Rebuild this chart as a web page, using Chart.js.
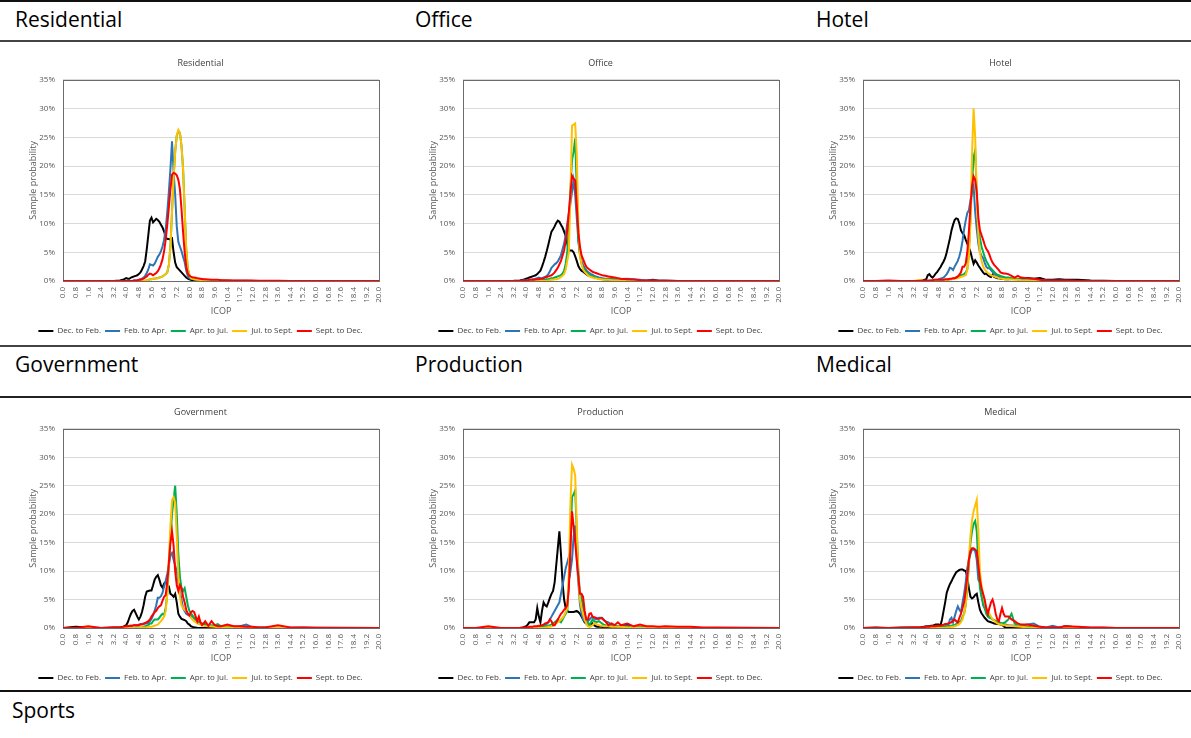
<!DOCTYPE html>
<html><head><meta charset="utf-8">
<script src="https://cdn.jsdelivr.net/npm/chart.js@4.4.1/dist/chart.umd.min.js"></script>
<style>
html,body{margin:0;padding:0;background:#fff;}
body{width:1191px;height:738px;position:relative;overflow:hidden;font-family:"Open Sans",sans-serif;}
.rule{position:absolute;left:0;width:1191px;background:#222;z-index:2;}
.hdr{position:absolute;font-size:21px;color:#000;line-height:21px;white-space:nowrap;}
canvas{position:absolute;}
</style></head><body>
<div class="rule" style="top:0;height:2px;background:#111"></div>
<div class="rule" style="top:40px;height:2px;background:#444"></div>
<div class="rule" style="top:345px;height:2px;background:#444"></div>
<div class="rule" style="top:396px;height:2px;background:#222"></div>
<div class="rule" style="top:690px;height:2px;background:#111"></div>
<div class="hdr" style="left:15px;top:9px">Residential</div>
<div class="hdr" style="left:415px;top:9px">Office</div>
<div class="hdr" style="left:816px;top:9px">Hotel</div>
<div class="hdr" style="left:15px;top:354px">Government</div>
<div class="hdr" style="left:415px;top:354px">Production</div>
<div class="hdr" style="left:816px;top:354px">Medical</div>
<div class="hdr" style="left:12px;top:700px">Sports</div>
<canvas id="c0" width="400" height="303" style="left:0;top:42px"></canvas>
<canvas id="c1" width="400" height="303" style="left:400px;top:42px"></canvas>
<canvas id="c2" width="400" height="303" style="left:800px;top:42px"></canvas>
<canvas id="c3" width="400" height="294" style="left:0;top:398px"></canvas>
<canvas id="c4" width="400" height="294" style="left:400px;top:398px"></canvas>
<canvas id="c5" width="400" height="294" style="left:800px;top:398px"></canvas>
<script>
// ICOP sample points (x values)
const ICOP = [0.0,0.8,1.6,2.4,3.2,3.6,3.8,
 4.0,4.1,4.2,4.3,4.4,4.5,4.6,4.7,4.8,4.9,
 5.0,5.1,5.2,5.3,5.4,5.5,5.6,5.7,5.8,5.9,
 6.0,6.1,6.2,6.3,6.4,6.5,6.6,6.7,6.8,6.9,
 7.0,7.1,7.2,7.3,7.4,7.5,7.6,7.7,7.8,7.9,
 8.0,8.1,8.2,8.3,8.4,8.5,8.6,8.7,8.8,8.9,9.0,
 9.2,9.4,9.6,9.8,10.0,10.4,10.8,11.2,11.6,12.0,12.4,12.8,13.6,14.4,15.2,16.0,20.0];

const SERIES_NAMES = ['Dec. to Feb.','Feb. to Apr.','Apr. to Jul.','Jul. to Sept.','Sept. to Dec.'];
const SERIES_COLORS = ['#000000','#2E75B6','#00B050','#FFC000','#FF0000'];
const X_TICKS = [0.0,0.8,1.6,2.4,3.2,4.0,4.8,5.6,6.4,7.2,8.0,8.8,9.6,10.4,11.2,12.0,12.8,13.6,14.4,15.2,16.0,16.8,17.6,18.4,19.2,20.0];
const Y_TICKS = [0,5,10,15,20,25,30,35];

// ---------- Residential ----------
const res_dec = [0,0,0,0,0,0.1,0.2,
 0.5,0.4,0.4,0.6,0.7,0.8,0.9,1.0,1.2,1.5,
 2.0,2.6,3.4,5.5,8.0,10.5,11.0,10.2,10.5,10.8,
 10.6,10.3,9.8,9.3,8.6,7.6,7.3,7.3,7.2,7.4,
 5.0,3.2,2.4,2.1,1.8,1.5,1.2,0.9,0.6,0.4,
 0.3,0.2,0.1,0.1,0.1,0.05,0,0,0,0,0,
 0,0,0,0,0,0,0,0,0,0,0,0,0,0,0,0,0];
const res_feb = [0,0,0,0,0,0,0,
 0,0,0,0,0,0.1,0.1,0.1,0.2,0.3,
 0.4,0.6,0.9,1.4,2.0,2.9,2.8,2.7,3.0,3.6,
 4.2,4.6,5.2,6.0,7.2,9.0,12.0,15.5,19.5,24.3,
 19.0,15.0,9.5,6.8,6.0,5.2,4.2,3.3,1.8,0.9,
 0.5,0.4,0.35,0.3,0.3,0.25,0.2,0.2,0.2,0.2,0.15,
 0.15,0.1,0.1,0.1,0.1,0.05,0.05,0.05,0.05,0,0,0,0,0,0,0,0];
const res_apr = [0,0,0,0,0,0,0,
 0,0,0,0,0,0,0,0,0,0,
 0,0,0,0.1,0.2,0.3,0.3,0.4,0.4,0.5,
 0.5,0.6,0.7,0.8,1.0,1.2,1.5,2.8,6.0,12.0,
 18.0,22.5,25.3,26.0,25.8,23.5,19.5,12.5,5.5,2.2,
 1.0,0.5,0.4,0.3,0.25,0.2,0.2,0.15,0.1,0.1,0.1,
 0.1,0.05,0.05,0.05,0.05,0,0,0,0,0,0,0,0,0,0,0,0];
const res_jul = [0,0,0,0,0,0,0,
 0,0,0,0,0,0,0,0,0,0,
 0,0,0.1,0.1,0.2,0.3,0.3,0.4,0.4,0.5,
 0.5,0.6,0.7,0.8,1.0,1.2,1.5,2.8,6.0,12.0,
 18.0,22.5,25.3,26.3,25.8,23.5,19.5,12.5,5.5,2.2,
 1.0,0.5,0.4,0.3,0.25,0.2,0.2,0.15,0.1,0.1,0.1,
 0.1,0.05,0.05,0.05,0.05,0,0,0,0,0,0,0,0,0,0,0,0];
const res_sep = [0,0,0,0,0,0,0,
 0,0,0,0,0,0.1,0.1,0.1,0.2,0.2,
 0.3,0.4,0.6,0.8,1.1,1.3,1.2,1.0,1.2,1.4,
 1.7,2.2,2.9,3.8,5.2,7.2,9.8,12.8,16.0,18.5,
 18.8,18.7,18.4,17.6,16.0,12.5,8.5,5.0,2.5,1.3,
 0.9,0.75,0.65,0.6,0.55,0.5,0.45,0.4,0.35,0.3,0.3,
 0.25,0.2,0.2,0.2,0.15,0.15,0.1,0.1,0.1,0.1,0.05,0.05,0.05,0,0,0,0];

// ---------- Office ----------
const off_dec = [0,0,0,0,0.05,0.1,0.2,
 0.4,0.5,0.6,0.7,0.8,0.9,1.0,1.2,1.5,1.8,
 2.5,3.3,4.2,5.2,6.3,7.5,8.6,9.0,9.5,10.1,
 10.5,10.3,9.8,9.3,8.6,7.8,6.5,5.3,5.3,5.3,
 5.0,4.3,3.5,2.6,2.1,1.8,1.6,1.4,1.2,1.0,
 0.9,0.85,0.8,0.7,0.6,0.5,0.45,0.4,0.35,0.3,0.25,
 0.2,0.15,0.15,0.1,0.1,0.1,0.05,0.05,0.05,0.2,0.05,0.05,0,0,0,0,0];
const off_feb = [0,0,0,0,0,0,0.1,
 0.1,0.1,0.2,0.2,0.3,0.3,0.4,0.5,0.6,0.5,
 0.5,0.6,0.7,0.9,1.2,1.7,2.3,2.6,2.9,3.1,
 3.4,3.9,4.5,5.5,6.5,8.0,10.0,11.8,13.5,15.5,
 17.5,15.0,11.0,7.0,5.0,3.6,2.8,2.3,1.9,1.6,
 1.4,1.2,1.1,0.9,0.8,0.7,0.6,0.55,0.5,0.45,0.4,
 0.4,0.35,0.3,0.3,0.35,0.4,0.3,0.2,0.1,0.1,0.05,0.05,0,0,0,0,0];
const off_apr = [0,0,0,0,0,0,0,
 0,0,0,0,0,0,0,0.1,0.1,0.1,
 0.1,0.2,0.2,0.3,0.3,0.4,0.5,0.5,0.6,0.7,
 0.8,0.9,1.0,1.3,1.8,3.0,5.0,10.0,16.0,21.0,
 22.5,24.8,16.0,7.0,4.5,3.0,2.3,1.9,1.6,1.3,
 1.0,0.9,0.8,0.7,0.6,0.5,0.45,0.4,0.35,0.3,0.3,
 0.25,0.2,0.2,0.15,0.1,0.05,0.05,0,0,0,0,0,0,0,0,0,0];
const off_jul = [0,0,0,0,0,0,0,
 0,0,0,0,0,0,0,0,0,0,
 0,0,0,0,0.1,0.1,0.2,0.2,0.3,0.3,
 0.4,0.5,0.7,0.9,1.2,2.0,3.5,5.0,15.0,27.0,
 27.2,27.4,22.0,10.0,4.5,3.0,2.0,1.6,1.3,1.0,
 0.8,0.7,0.6,0.5,0.5,0.4,0.35,0.3,0.25,0.2,0.2,
 0.2,0.15,0.1,0.1,0.05,0.05,0,0,0,0,0,0,0,0,0,0,0];
const off_sep = [0,0,0,0,0,0,0.1,
 0.1,0.1,0.2,0.2,0.2,0.2,0.3,0.3,0.3,0.4,
 0.4,0.5,0.6,0.7,0.8,0.9,1.0,1.2,1.5,1.9,
 2.3,2.9,3.5,4.4,5.3,7.0,8.8,12.0,15.2,18.3,
 17.8,17.5,13.2,8.5,6.0,4.5,3.8,3.1,2.5,2.2,
 2.0,1.8,1.6,1.5,1.4,1.3,1.2,1.1,1.0,0.95,0.9,
 0.8,0.7,0.6,0.5,0.4,0.3,0.25,0.15,0.1,0.1,0.05,0.05,0,0,0,0,0];

// ---------- Hotel ----------
const hot_dec = [0,0,0,0,0,0,0.1,
 0.3,1.0,1.2,0.8,0.6,0.9,1.3,1.6,2.0,2.4,
 2.9,3.4,4.0,5.0,6.2,7.4,8.8,9.8,10.6,10.9,
 10.8,10.0,8.8,8.3,8.0,7.2,6.5,5.8,5.1,4.0,
 3.0,3.6,3.2,2.7,2.3,1.9,1.5,1.2,1.3,1.0,
 0.8,0.7,1.1,0.7,0.6,0.5,0.5,0.4,0.4,0.35,0.3,
 0.3,0.35,0.4,0.3,0.3,0.5,0.4,0.5,0.2,0.2,0.3,0.2,0.2,0.1,0.05,0,0];
const hot_feb = [0,0,0,0,0,0,0,
 0,0,0,0.1,0.1,0.1,0.2,0.2,0.3,0.4,
 0.5,0.6,0.9,1.2,1.7,2.3,2.2,1.9,2.5,3.0,
 3.5,4.3,5.4,7.0,9.0,10.5,11.8,12.3,14.0,15.5,
 16.5,12.0,9.0,6.5,5.0,4.4,4.0,3.2,2.5,2.2,
 2.2,1.9,1.6,1.3,1.0,0.9,0.8,0.7,0.7,0.6,0.5,
 0.5,0.45,0.4,0.35,0.3,0.3,0.2,0.1,0.1,0.05,0.05,0.05,0,0,0,0,0];
const hot_apr = [0,0,0,0,0,0,0,
 0,0,0,0,0,0,0,0,0.1,0.1,
 0.1,0.1,0.2,0.2,0.2,0.3,0.3,0.4,0.5,0.6,
 0.7,0.8,1.0,1.1,1.2,1.5,2.0,5.0,11.0,17.0,
 21.5,22.7,15.0,10.0,7.5,6.0,5.1,4.2,3.5,3.0,
 2.5,2.2,1.9,1.6,1.3,1.1,1.0,0.9,0.8,0.7,0.6,
 0.6,0.5,0.4,0.3,0.2,0.1,0.1,0.05,0,0,0,0,0,0,0,0,0];
const hot_jul = [0,0,0,0,0,0.2,0,
 0,0,0,0,0,0,0,0,0,0.1,
 0.1,0.1,0.1,0.2,0.2,0.3,0.3,0.4,0.4,0.5,
 0.5,0.6,0.7,0.8,0.9,1.0,2.0,4.0,10.0,22.0,
 30.0,25.0,15.0,8.0,5.0,3.5,2.6,2.0,1.7,1.4,
 1.2,1.0,0.9,0.8,0.7,0.6,0.5,0.45,0.4,0.35,0.3,
 0.3,0.25,0.2,0.2,0.15,0.1,0.05,0.05,0,0,0,0,0,0,0,0,0];
const hot_sep = [0,0,0.1,0,0,0,0.1,
 0.1,0.1,0.1,0.1,0.1,0.2,0.2,0.2,0.2,0.2,
 0.2,0.2,0.3,0.3,0.3,0.4,0.4,0.5,0.5,0.6,
 0.8,1.1,1.5,2.5,2.5,3.0,5.0,8.5,13.0,16.5,
 18.2,17.6,15.5,11.0,8.8,8.0,7.2,6.3,5.6,5.2,
 4.6,3.8,3.2,2.8,2.5,2.2,1.9,1.5,1.4,1.3,1.3,
 1.2,0.9,0.6,0.9,0.6,0.5,0.4,0.2,0.1,0.1,0.1,0.1,0.05,0,0,0,0];

// ---------- Government ----------
const gov_dec = [0,0.2,0.1,0,0.1,0.1,0.2,
 0.5,1.0,1.8,2.5,3.0,3.2,2.6,2.0,1.5,2.0,
 2.8,4.0,5.5,6.4,6.5,6.6,6.6,7.5,8.5,9.0,
 9.3,8.5,7.5,7.1,7.8,8.1,7.5,7.3,6.0,5.8,
 5.5,6.0,4.5,2.5,2.0,1.6,1.5,1.4,1.2,0.8,
 0.6,0.3,0.2,0.1,0.1,0,0,0,0,0,0,
 0,0,0,0,0,0,0,0,0,0,0,0,0,0,0,0,0];
const gov_feb = [0,0,0,0,0,0,0,
 0.2,0.3,0.3,0.4,0.4,0.5,0.5,0.5,0.6,0.7,
 0.7,0.8,0.8,0.8,0.8,1.2,1.6,2.2,3.0,4.0,
 5.3,5.3,5.6,6.2,7.3,8.3,9.5,11.0,12.8,13.2,
 12.0,11.0,10.0,8.0,6.5,5.0,3.5,3.0,2.5,2.3,
 2.2,2.1,2.0,1.7,1.5,1.2,1.0,0.9,0.7,0.6,0.5,
 0.4,0.35,0.3,0.25,0.2,0.2,0.2,0.3,0.6,0.1,0.1,0.1,0.05,0.05,0.1,0.05,0];
const gov_apr = [0,0,0,0,0,0,0,
 0,0,0,0,0,0,0.1,0.1,0.1,0.1,
 0.1,0.2,0.3,0.4,0.5,0.8,0.8,1.2,1.5,1.5,
 1.5,1.8,2.2,2.5,2.3,3.5,6.0,11.0,16.0,20.0,
 22.5,25.0,20.0,13.0,9.0,7.0,6.5,7.0,5.5,4.0,
 3.0,2.6,2.2,1.8,1.5,1.2,1.0,0.9,0.8,0.7,0.7,
 0.5,0.5,0.5,0.7,0.3,0.2,0.2,0.1,0.1,0.05,0.05,0.05,0,0,0,0,0];
const gov_jul = [0,0,0,0,0,0,0,
 0,0,0,0,0,0,0,0,0,0.1,
 0.1,0.1,0.1,0.1,0.2,0.2,0.2,0.3,0.4,0.5,
 0.6,0.9,1.2,1.6,2.0,3.0,6.0,12.0,18.0,22.5,
 23.0,22.0,16.0,9.0,5.5,4.0,3.5,3.2,3.0,2.6,
 2.2,1.8,1.5,1.2,1.0,0.8,0.7,0.6,0.5,0.4,0.35,
 0.3,0.25,0.2,0.15,0.1,0.1,0.05,0.05,0,0,0,0,0,0,0,0,0];
const gov_sep = [0,0,0.3,0,0.1,0.1,0.2,
 0.3,0.3,0.4,0.4,0.4,0.5,0.5,0.5,0.5,0.6,
 0.6,0.7,0.9,1.0,1.2,1.5,2.0,2.4,2.8,3.0,
 3.5,3.8,4.0,4.8,5.5,5.8,8.0,11.5,15.0,17.0,
 14.5,10.0,7.5,6.5,7.5,7.0,5.5,4.5,3.2,2.5,
 2.2,2.8,3.0,2.8,2.0,1.2,2.0,1.0,0.5,0.8,1.2,
 0.4,1.2,0.5,0.3,0.3,0.6,0.3,0.3,0.2,0.2,0.1,0.1,0.5,0.1,0.1,0.05,0];

// ---------- Production ----------
const pro_dec = [0,0,0,0,0,0,0.1,
 0.3,0.6,1.0,1.0,1.0,1.0,1.5,3.5,2.0,1.0,
 3.0,4.5,4.0,3.8,4.5,5.3,6.0,6.5,8.0,11.0,
 14.0,17.0,13.0,8.0,5.0,3.5,3.0,2.8,2.8,2.8,
 2.8,2.9,3.0,2.8,2.5,2.0,1.5,1.0,0.8,0.5,
 0.5,0.6,0.8,0.5,0.3,0.2,0.2,0.2,0.2,0.1,0.1,
 0.1,0.1,0.1,0.2,0.3,0.6,0.1,0.1,0.05,0.05,0,0,0,0,0,0,0];
const pro_feb = [0,0,0,0,0,0,0,
 0,0,0,0.1,0.1,0.1,0.2,0.2,0.3,0.3,
 0.3,0.4,0.5,0.7,1.0,1.5,2.0,2.5,3.0,3.5,
 4.0,4.5,6.0,7.5,9.0,10.5,11.5,12.5,10.0,12.0,
 16.0,18.0,12.0,8.0,4.2,2.5,1.5,1.2,1.0,1.2,
 1.5,1.8,2.0,1.7,1.5,1.6,1.8,1.8,1.8,1.5,1.2,
 1.0,0.6,0.4,0.3,0.3,0.3,0.2,0.2,0.1,0.1,0.1,0.05,0.05,0,0,0,0];
const pro_apr = [0,0,0,0,0,0,0,
 0,0,0,0,0,0,0,0.1,0.1,0.1,
 0.2,0.2,0.3,0.3,0.4,0.5,0.6,0.8,1.0,1.2,
 1.5,1.2,1.0,1.5,2.0,2.5,3.0,8.0,15.0,23.0,
 23.5,24.2,17.0,10.0,6.0,5.5,3.5,2.5,1.5,1.0,
 0.5,1.0,1.5,1.2,1.0,1.1,1.2,1.0,0.8,0.6,0.5,
 0.3,0.3,0.3,0.2,0.2,0.1,0.1,0.05,0.05,0,0,0,0,0,0,0,0];
const pro_jul = [0,0,0,0,0,0,0,
 0,0,0,0,0,0,0,0,0,0,
 0,0,0.1,0.1,0.2,0.2,0.3,0.4,0.6,0.8,
 1.0,1.2,1.5,1.8,2.2,2.8,3.5,10.0,22.0,28.7,
 28.0,26.8,18.0,9.0,5.0,3.5,2.5,1.5,0.8,0.3,
 0.2,0.3,0.5,0.8,0.8,0.6,0.5,0.4,0.4,0.3,0.3,
 0.3,0.2,0.2,0.2,0.2,0.1,0.1,0.05,0.05,0,0,0,0,0,0,0,0];
const pro_sep = [0,0,0.3,0,0,0,0.1,
 0.1,0.1,0.2,0.2,0.2,0.3,0.3,0.3,0.4,0.4,
 0.5,0.6,0.8,0.9,1.0,1.5,1.2,0.5,0.5,1.0,
 1.5,2.0,2.5,2.8,3.2,3.5,4.0,7.0,14.0,20.5,
 18.0,15.0,12.0,9.0,6.0,6.0,5.5,3.0,1.5,1.5,
 2.5,2.6,2.0,1.9,1.8,1.7,1.6,1.7,1.7,1.4,1.2,
 0.5,0.8,0.5,1.0,0.5,0.8,0.3,0.6,0.3,0.3,0.2,0.3,0.2,0.2,0.1,0.1,0];

// ---------- Medical ----------
const med_dec = [0,0.1,0,0.1,0.1,0.1,0.2,
 0.3,0.3,0.3,0.4,0.4,0.5,0.6,0.6,0.6,0.4,
 1.5,3.0,4.5,6.2,7.0,7.7,8.2,8.8,9.3,9.8,
 10.0,10.2,10.3,10.3,10.1,10.0,9.0,7.0,5.5,5.2,
 5.4,5.8,6.0,4.5,3.2,2.6,2.2,1.8,1.5,1.2,
 1.1,1.0,0.9,0.8,0.75,0.7,0.7,0.6,0.6,0.3,0.1,
 0.05,0,0,0,0,0,0,0,0,0,0,0.3,0.1,0,0,0,0];
const med_feb = [0,0,0,0,0,0,0.1,
 0.3,0.2,0.2,0.2,0.2,0.2,0.2,0.2,0.2,0.2,
 0.2,0.3,0.3,0.4,0.5,1.5,1.8,1.0,2.0,3.0,
 3.8,3.2,2.8,4.5,6.0,8.0,10.5,12.0,13.0,13.8,
 13.8,13.5,12.0,8.5,8.0,6.0,4.0,3.5,3.0,2.5,
 2.0,1.8,1.5,1.4,1.2,1.1,1.0,0.9,0.8,0.7,0.6,
 0.5,0.45,0.4,0.35,0.3,0.6,0.8,0.2,0.1,0.4,0.1,0.3,0.1,0.05,0.05,0,0];
const med_apr = [0,0,0,0,0,0,0,
 0,0,0,0,0,0,0.1,0.1,0.1,0.1,
 0.2,0.2,0.2,0.3,0.3,0.4,0.4,0.5,0.5,0.7,
 1.0,1.1,1.2,2.0,2.5,4.0,7.0,11.0,15.0,17.0,
 18.3,18.8,17.0,11.0,7.0,5.5,4.5,3.5,2.5,2.0,
 1.8,1.7,1.5,1.4,1.2,1.1,1.0,0.9,0.8,0.9,1.0,
 1.5,2.5,0.8,0.5,0.4,0.2,0.1,0.05,0,0,0,0,0,0,0,0,0];
const med_jul = [0,0,0,0,0,0,0,
 0,0,0,0,0,0,0,0,0,0,
 0,0,0,0.1,0.1,0.1,0.2,0.2,0.3,0.4,
 0.5,0.7,1.0,1.6,2.5,4.0,7.5,12.0,16.0,19.0,
 20.5,21.5,22.5,17.0,10.0,7.5,6.0,4.5,3.5,3.0,
 2.5,2.0,1.5,1.3,1.0,0.8,0.7,0.6,0.6,0.5,0.5,
 0.4,0.35,0.3,0.25,0.2,0.1,0.05,0,0,0,0,0,0,0,0,0,0];
const med_sep = [0,0,0,0,0.1,0.1,0.1,
 0.2,0.2,0.2,0.3,0.3,0.3,0.3,0.4,0.4,0.4,
 0.5,0.6,0.7,0.7,0.8,0.9,1.0,1.3,1.5,1.2,
 1.0,1.8,2.5,3.5,4.5,6.5,9.0,12.0,13.5,14.0,
 14.0,13.8,13.5,11.0,8.5,7.0,6.0,5.0,3.5,2.5,
 3.5,4.5,5.0,4.0,2.5,1.5,1.2,2.5,3.5,2.5,2.0,
 2.0,1.5,1.2,0.8,0.6,0.6,0.4,0.2,0.1,0.1,0.1,0.3,0.2,0.1,0.1,0,0];

const CHARTS = [
  {id:'c0', title:'Residential', series:[res_dec,res_feb,res_apr,res_jul,res_sep], titleTop:16},
  {id:'c1', title:'Office',      series:[off_dec,off_feb,off_apr,off_jul,off_sep], titleTop:16},
  {id:'c2', title:'Hotel',       series:[hot_dec,hot_feb,hot_apr,hot_jul,hot_sep], titleTop:16},
  {id:'c3', title:'Government',  series:[gov_dec,gov_feb,gov_apr,gov_jul,gov_sep], titleTop:9},
  {id:'c4', title:'Production',  series:[pro_dec,pro_feb,pro_apr,pro_jul,pro_sep], titleTop:9},
  {id:'c5', title:'Medical',     series:[med_dec,med_feb,med_apr,med_jul,med_sep], titleTop:9}
];

CHARTS.forEach(c => c.series.forEach((s,i) => {
  if (s.length !== ICOP.length) throw new Error(c.title + ' series ' + i + ' has ' + s.length + ' values, expected ' + ICOP.length);
}));

Chart.defaults.font.family = '"Open Sans", sans-serif';
Chart.defaults.color = '#595959';

const plotBorder = {
  id: 'plotBorder',
  beforeDatasetsDraw(chart) {
    const {ctx, chartArea: a} = chart;
    ctx.save();
    ctx.strokeStyle = '#6b6b6b';
    ctx.lineWidth = 1;
    ctx.strokeRect(Math.round(a.left) + 0.5, Math.round(a.top) + 0.5,
                   Math.round(a.right - a.left), Math.round(a.bottom - a.top));
    ctx.restore();
  }
};

CHARTS.forEach(c => {
  new Chart(document.getElementById(c.id), {
    type: 'line',
    data: {
      datasets: c.series.map((vals, i) => ({
        label: SERIES_NAMES[i],
        data: ICOP.map((x, k) => ({x: x, y: vals[k]})),
        borderColor: SERIES_COLORS[i],
        backgroundColor: SERIES_COLORS[i],
        borderWidth: 2,
        pointRadius: 0,
        tension: 0,
        fill: false,
        order: SERIES_NAMES.length - i   // later series drawn on top, as in Excel
      }))
    },
    options: {
      responsive: false,
      animation: false,
      events: [],
      layout: {padding: {left: 22, right: 21, top: 0, bottom: 0}},
      plugins: {
        title: {display: true, text: c.title, color: '#404040',
                font: {size: 9, weight: 'normal'}, padding: {top: c.titleTop, bottom: 11}},
        legend: {position: 'bottom',
                 labels: {usePointStyle: true, pointStyle: 'line', pointStyleWidth: 15,
                          boxHeight: 8, padding: 4, color: '#404040', font: {size: 8},
                          sort: (a, b) => a.datasetIndex - b.datasetIndex}},
        tooltip: {enabled: false}
      },
      scales: {
        x: {
          type: 'linear', min: 0, max: 20,
          afterBuildTicks: (scale) => { scale.ticks = X_TICKS.map(v => ({value: v})); },
          afterFit: (scale) => { scale.height = 42; },
          grid: {display: false, drawTicks: false},
          border: {display: false},
          ticks: {autoSkip: false, maxRotation: 90, minRotation: 90, padding: 6,
                  font: {size: 8}, color: '#595959',
                  callback: (v) => Number(v).toFixed(1)},
          title: {display: true, text: 'ICOP', color: '#595959', font: {size: 9},
                  padding: {top: 2, bottom: 6}}
        },
        y: {
          min: 0, max: 35,
          afterBuildTicks: (scale) => { scale.ticks = Y_TICKS.map(v => ({value: v})); },
          afterFit: (scale) => { scale.width = 41; },
          grid: {color: '#D9D9D9', drawTicks: false},
          border: {display: false},
          ticks: {padding: 8, font: {size: 8}, color: '#595959', callback: (v) => v + '%'},
          title: {display: true, text: 'Sample probability', color: '#595959', font: {size: 9},
                  padding: {top: 6, bottom: 0}}
        }
      }
    },
    plugins: [plotBorder]
  });
});
</script>
</body></html>
